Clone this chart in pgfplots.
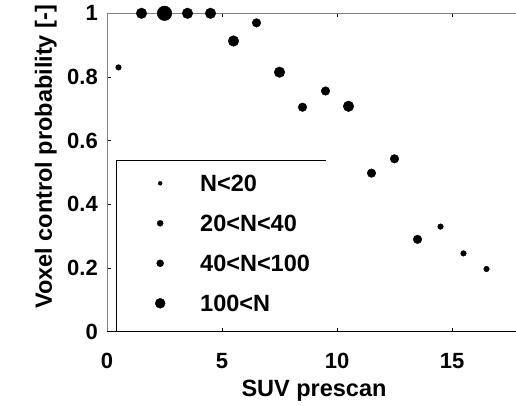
\documentclass[border=0pt]{standalone}
\usepackage{fontspec}
\setmainfont{Liberation Sans}
\usepackage{pgfplots}
\pgfplotsset{compat=1.18}
\begin{document}
\begin{tikzpicture}[x=1pt,y=1pt]
\path[use as bounding box] (0,0) rectangle (516,406);
\begin{axis}[
  at={(107pt,74.3pt)}, anchor=south west,
  scale only axis, width=414pt, height=318.4pt,
  xmin=0, xmax=18, ymin=0, ymax=1,
  clip=false,
  xtick={0,5,10,15}, xticklabels={0,5,10,15},
  ytick={0,0.2,0.4,0.6,0.8,1}, yticklabels={0,0.2,0.4,0.6,0.8,1},
  tick label style={font=\fontsize{22}{24}\selectfont\bfseries},
  yticklabel style={inner sep=0pt, xshift=-9pt},
  xticklabel style={inner sep=0pt, yshift=-21pt},
  axis line style={draw=gray, line width=1pt},
  tick style={black, line width=0.9pt},
  major tick length=4pt,
  xlabel={SUV prescan},
  ylabel={Voxel control probability [-]},
  label style={font=\fontsize{23.5}{26}\selectfont\bfseries},
  xlabel style={at={(rel axis cs:0.5,-0.2041)}, anchor=base},
  ylabel style={at={(rel axis cs:-0.1329,0.549)}, anchor=base},
  legend image code/.code={\path[draw=none,fill=none] (0pt,-8.5pt) rectangle (84pt,8.5pt); \draw[#1] plot coordinates {(44pt,0pt)};},
  legend style={at={(rel axis cs:0.0217,0.539)}, anchor=north west, draw=none, fill=none,
    inner xsep=0pt, inner ysep=14.5pt, row sep=23pt,
    font=\fontsize{23.5}{26}\selectfont\bfseries,
    nodes={inner sep=0pt, text height=17pt, text depth=0pt},
    cells={anchor=west}},
]
\addlegendimage{only marks, mark=*, black, mark size=2pt}
\addlegendentry{N<20}
\addlegendimage{only marks, mark=*, black, mark size=3pt}
\addlegendentry{20<N<40}
\addlegendimage{only marks, mark=*, black, mark size=3.5pt}
\addlegendentry{40<N<100}
\addlegendimage{only marks, mark=*, black, mark size=5pt}
\addlegendentry{100<N}
% N<20
\addplot[only marks, mark=*, black, mark size=2.8pt, forget plot] coordinates {
(0.5,0.83) (14.5,0.33) (15.5,0.246) (16.5,0.197)};
% 20<N<40
\addplot[only marks, mark=*, black, mark size=4.3pt, forget plot] coordinates {
(6.5,0.97) (8.5,0.705) (9.5,0.756) (11.5,0.498) (12.5,0.543) (13.5,0.29)};
% 40<N<100
\addplot[only marks, mark=*, black, mark size=5.3pt, forget plot] coordinates {
(1.5,1) (3.5,1) (4.5,1) (5.5,0.913) (7.5,0.815) (10.5,0.708)};
% 100<N
\addplot[only marks, mark=*, black, mark size=7.3pt, forget plot] coordinates {
(2.5,1)};
\draw[black, line width=1pt] (rel axis cs:0,0) -- (rel axis cs:1,0);
\draw[black, line width=0.8pt] (axis cs:0.391,0) -- (axis cs:0.391,0.539) -- (axis cs:9.52,0.539);
\end{axis}
\end{tikzpicture}
\end{document}
